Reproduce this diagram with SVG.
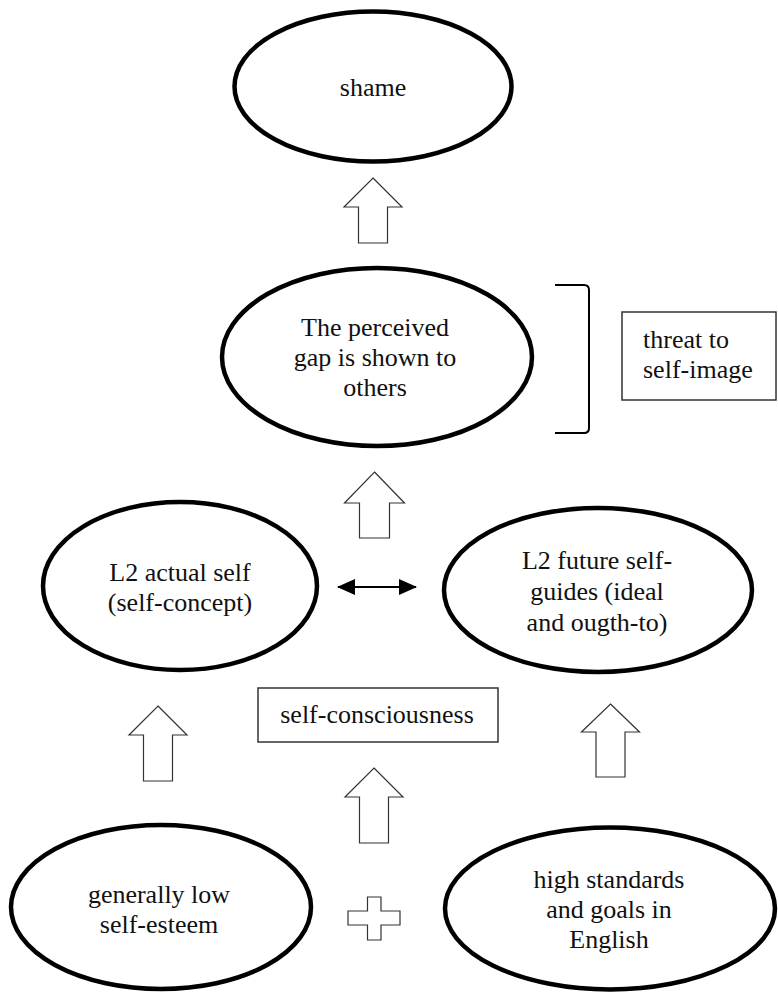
<svg xmlns="http://www.w3.org/2000/svg" width="778" height="992" viewBox="0 0 778 992">
  <style>
    .ell { fill: #fff; stroke: #000; stroke-width: 4.5; }
    .box { fill: #fff; stroke: #333; stroke-width: 1.5; }
    .blk { fill: #fff; stroke: #333; stroke-width: 1.2; stroke-linejoin: miter; }
    .txt { font-family: "Liberation Serif", "Times New Roman", serif; font-size: 26px; fill: #111; text-anchor: middle; }
    .lt { text-anchor: start; }
    .con { fill: none; stroke: #000; stroke-width: 2; }
  </style>
  <defs>
    <marker id="ah" markerUnits="userSpaceOnUse" markerWidth="18" markerHeight="16" refX="17" refY="8" orient="auto-start-reverse">
      <path d="M0,0 L18,8 L0,16 z" fill="#000"/>
    </marker>
  </defs>
  <rect width="778" height="992" fill="#fff"/>

  <g id="connectors">
    <path class="blk" d="M373,178 L402,207 L387.5,207 L387.5,243 L358.5,243 L358.5,207 L344,207 Z"/>
    <path class="blk" d="M374.5,472 L404.5,503 L389.5,503 L389.5,538 L359.5,538 L359.5,503 L344.5,503 Z"/>
    <path class="blk" d="M158,706 L187,735 L172.5,735 L172.5,781 L143.5,781 L143.5,735 L129,735 Z"/>
    <path class="blk" d="M374,768 L403,797 L388.5,797 L388.5,843 L359.5,843 L359.5,797 L345,797 Z"/>
    <path class="blk" d="M610.5,704 L639.5,732 L625,732 L625,777 L596,777 L596,732 L581.5,732 Z"/>
    <line class="con" x1="338" y1="587" x2="416" y2="587" marker-start="url(#ah)" marker-end="url(#ah)"/>
    <path class="con" d="M555,285 L584,285 Q589,285 589,290 L589,428 Q589,433 584,433 L555,433"/>
    <path id="plus" class="blk" d="M367.5,897 L381,897 L381,911 L400,911 L400,925 L381,925 L381,940 L367.5,940 L367.5,925 L348,925 L348,911 L367.5,911 Z"/>
  </g>

  <g id="shame">
    <ellipse class="ell" cx="373" cy="86.5" rx="138.5" ry="75"/>
    <text class="txt" x="373" y="96">shame</text>
  </g>

  <g id="gap">
    <ellipse class="ell" cx="377" cy="357" rx="155" ry="89"/>
    <text class="txt" x="375" y="336">The perceived</text>
    <text class="txt" x="375" y="366">gap is shown to</text>
    <text class="txt" x="375" y="396">others</text>
  </g>

  <g id="threat">
    <rect class="box" x="622" y="312" width="154" height="88"/>
    <text class="txt lt" x="643" y="348">threat to</text>
    <text class="txt lt" x="643" y="378">self-image</text>
  </g>

  <g id="actual">
    <ellipse class="ell" cx="180" cy="586" rx="137" ry="84"/>
    <text class="txt" x="180" y="581">L2 actual self</text>
    <text class="txt" x="180" y="611">(self-concept)</text>
  </g>

  <g id="future">
    <ellipse class="ell" cx="598" cy="590" rx="154" ry="82"/>
    <text class="txt" x="597" y="569">L2 future self-</text>
    <text class="txt" x="597" y="600">guides (ideal</text>
    <text class="txt" x="597" y="631">and ougth-to)</text>
  </g>

  <g id="selfconsciousness">
    <rect class="box" x="258" y="688" width="240" height="54"/>
    <text class="txt" x="377" y="723">self-consciousness</text>
  </g>

  <g id="lowesteem">
    <ellipse class="ell" cx="161" cy="907" rx="150" ry="82"/>
    <text class="txt" x="159" y="903">generally low</text>
    <text class="txt" x="159" y="933">self-esteem</text>
  </g>

  <g id="standards">
    <ellipse class="ell" cx="610" cy="908.5" rx="165" ry="81"/>
    <text class="txt" x="609" y="888">high standards</text>
    <text class="txt" x="609" y="918">and goals in</text>
    <text class="txt" x="609" y="948">English</text>
  </g>
</svg>
